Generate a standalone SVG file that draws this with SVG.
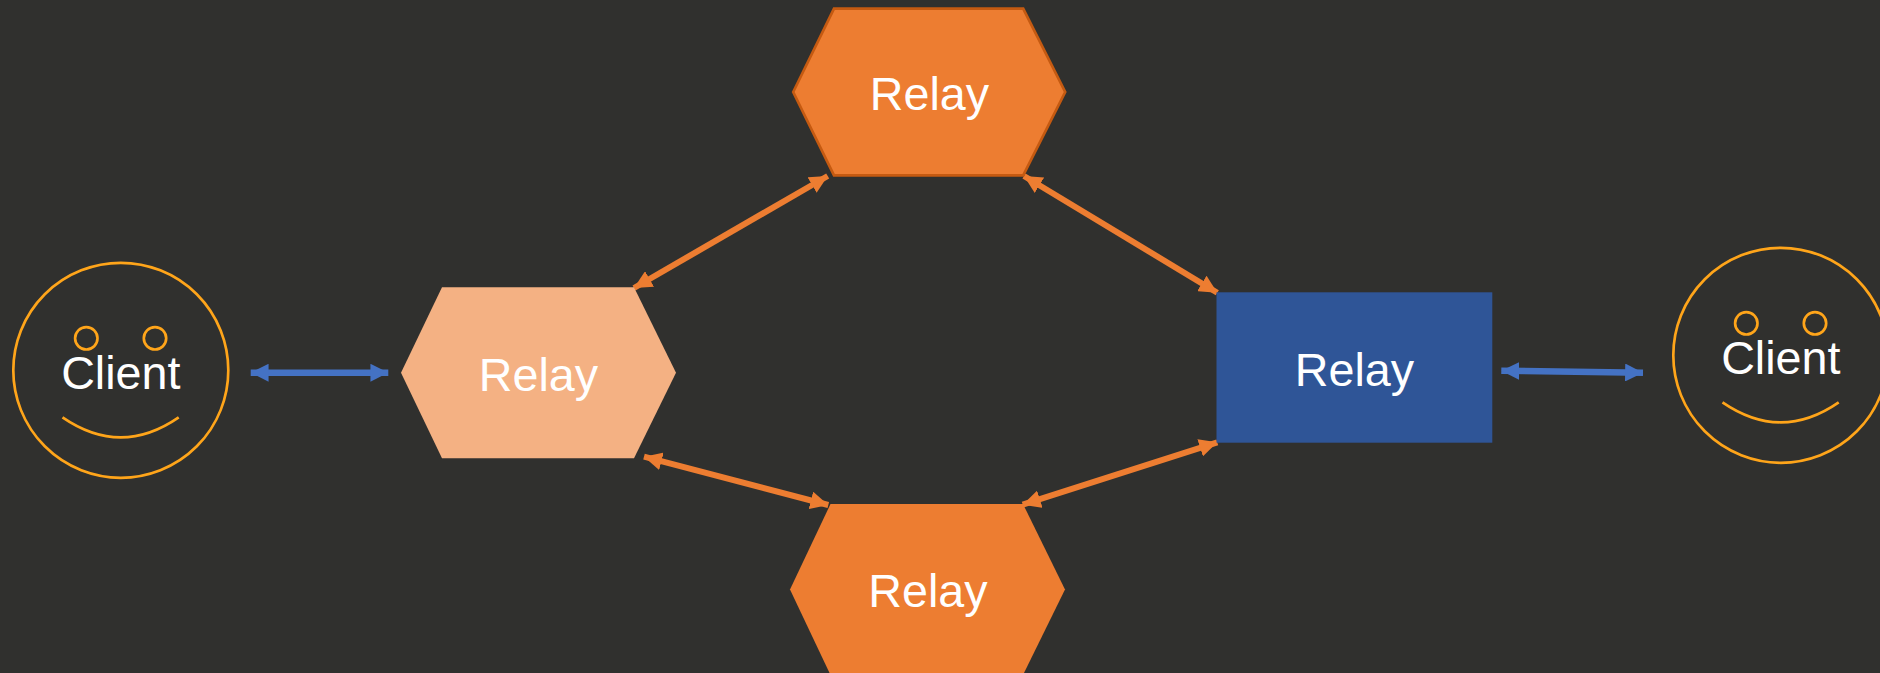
<svg xmlns="http://www.w3.org/2000/svg" width="1880" height="673" viewBox="0 0 1880 673">
<style>
.t{font-family:"Liberation Sans",Arial,sans-serif;font-size:46.67px;fill:#fff;text-anchor:middle}
.f{fill:none;stroke:#FFA51A;stroke-width:2.67}
.o{fill:#ED7D31;stroke:#ED7D31;stroke-width:6;marker-start:url(#ho);marker-end:url(#ho)}
.b{stroke:#4472C4;stroke-width:6.5;fill:none;marker-start:url(#hb);marker-end:url(#hb)}
.o{fill:none}
</style>
<defs>
<marker id="ho" viewBox="0 0 3 3" refX="3" refY="1.5" markerWidth="3" markerHeight="3" orient="auto-start-reverse"><path d="M0 0L3 1.5L0 3Z" fill="#ED7D31"/></marker>
<marker id="hb" viewBox="0 0 3 3" refX="3" refY="1.5" markerWidth="2.75" markerHeight="2.75" orient="auto-start-reverse"><path d="M0 0L3 1.5L0 3Z" fill="#4472C4"/></marker>
</defs>
<rect width="1880" height="673" fill="#30302E"/>
<g id="connectors">
<line class="b" x1="250.7" y1="372.7" x2="388.3" y2="372.7"/>
<line class="b" x1="1501.3" y1="370.7" x2="1643" y2="372.7"/>
<line class="o" x1="634" y1="288" x2="827.7" y2="176"/>
<line class="o" x1="1024" y1="176" x2="1217.3" y2="292.7"/>
<line class="o" x1="644" y1="456.7" x2="828.3" y2="505"/>
<line class="o" x1="1022.7" y1="504.7" x2="1217.3" y2="442.3"/>
</g>
<g id="client-left">
<circle class="f" cx="120.8" cy="370.3" r="107.5"/>
<circle class="f" cx="86.3" cy="338.3" r="11.2"/>
<circle class="f" cx="155" cy="338.3" r="11.2"/>
<path class="f" d="M62.5 417.3Q120.8 457.3 178.7 417.3"/>
<text class="t" x="120.8" y="388.7">Client</text>
</g>
<g id="relay-left">
<polygon points="401,372.8 442,287.3 634,287.3 676,372.8 634,458.3 442,458.3" fill="#F4B183"/>
<text class="t" x="538.5" y="391">Relay</text>
</g>
<g id="relay-top">
<polygon points="793.2,92 834,8.6 1023.2,8.6 1065.2,92 1023.2,175.4 834,175.4" fill="#ED7D31" stroke="#C55A11" stroke-width="2.67"/>
<text class="t" x="929.5" y="110">Relay</text>
</g>
<g id="relay-bottom">
<polygon points="790,589.5 830.5,504 1023,504 1065,589.5 1023,675 830.5,675" fill="#ED7D31"/>
<text class="t" x="928" y="607">Relay</text>
</g>
<g id="relay-right">
<rect x="1216.5" y="292.3" width="275.8" height="150.4" fill="#2F5597"/>
<text class="t" x="1354.4" y="385.5">Relay</text>
</g>
<g id="client-right">
<circle class="f" cx="1780.8" cy="355.3" r="107.5"/>
<circle class="f" cx="1746.3" cy="323.3" r="11.2"/>
<circle class="f" cx="1815" cy="323.3" r="11.2"/>
<path class="f" d="M1722.5 402.3Q1780.8 442.3 1838.7 402.3"/>
<text class="t" x="1780.8" y="373.7">Client</text>
</g>
</svg>
